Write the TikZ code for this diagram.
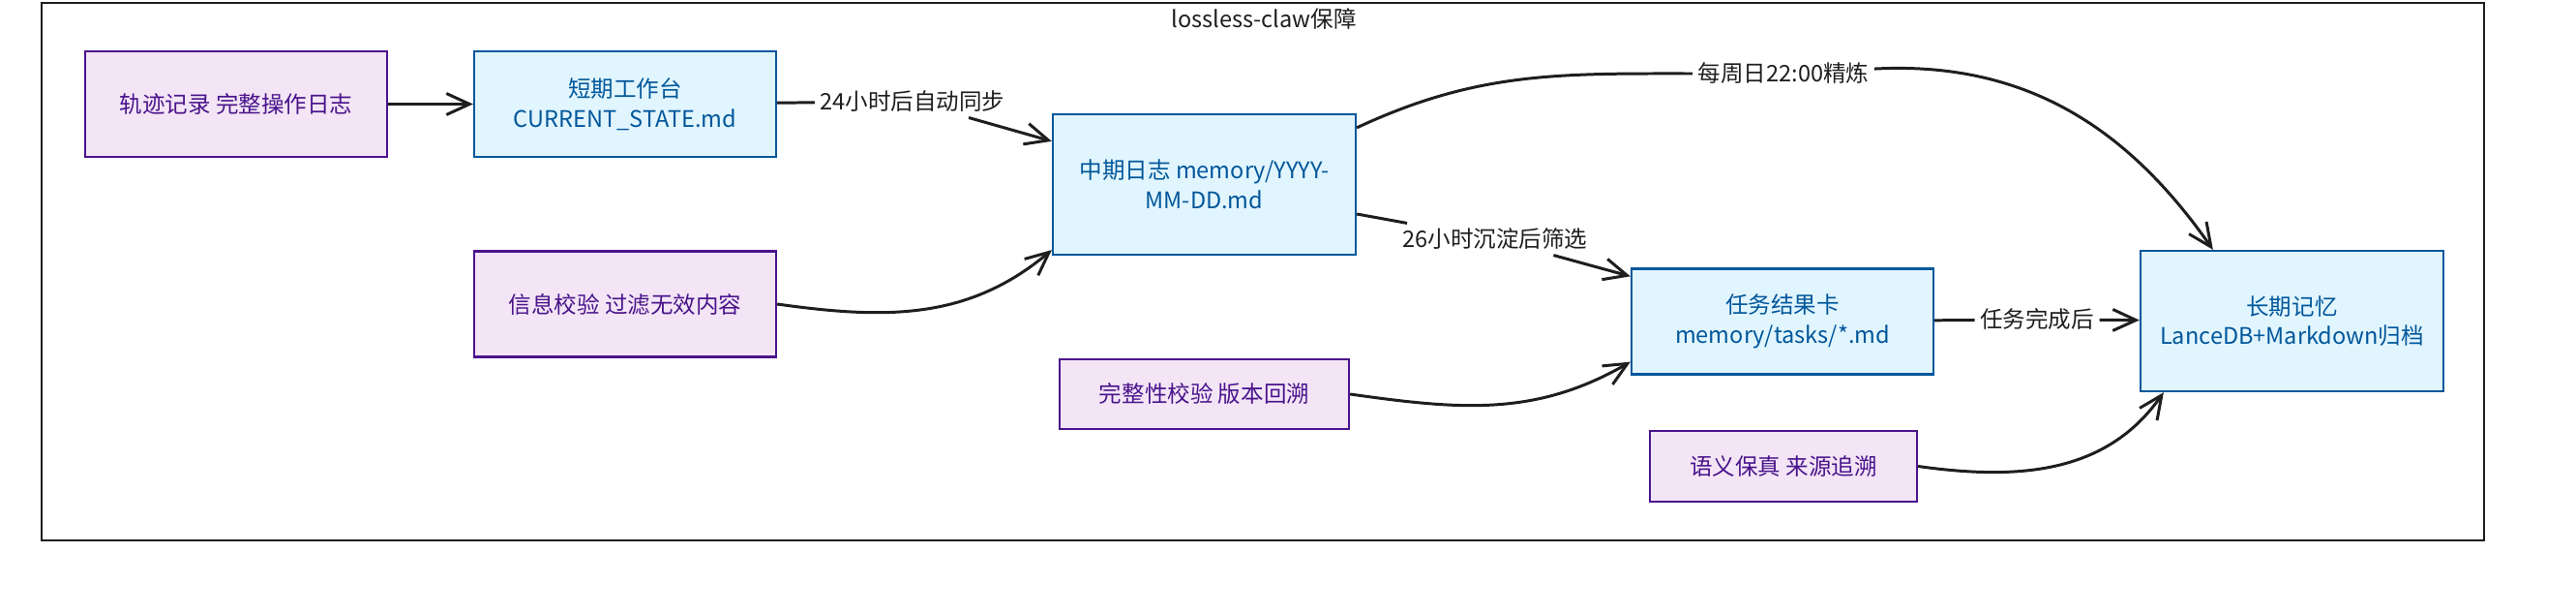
\documentclass[tikz,border=0pt]{standalone}
\usepackage{xcolor}
\usepackage{fontspec}
\newfontfamily\cjk{Noto Sans CJK SC}
\usepackage{tikz}
\usetikzlibrary{arrows.meta, positioning}
\definecolor{purpfill}{HTML}{F3E5F5}
\definecolor{purpline}{HTML}{4A148C}
\definecolor{bluefill}{HTML}{E1F5FE}
\definecolor{blueline}{HTML}{01579B}
\definecolor{ink}{HTML}{1E1E1E}

\begin{document}
\begin{tikzpicture}[
  font=\cjk\fontsize{13.4}{17.5}\selectfont,
  guard/.style={draw=purpline, line width=1.3pt, fill=purpfill, text=purpline,
                minimum width=6.24cm, minimum height=2.18cm, align=center, inner sep=2pt},
  store/.style={draw=blueline, line width=1.3pt, fill=bluefill, text=blueline,
                minimum width=6.24cm, minimum height=2.18cm, align=center, inner sep=2pt},
  tag/.style={text=ink, inner sep=3pt},
  flow/.style={-{Straight Barb[length=4.8mm,width=4.4mm]}, line width=1.7pt, ink}
]
\useasboundingbox (0,0) rectangle (53.24,-12.68);
\node[draw=ink, line width=1.2pt, minimum width=50.48cm, minimum height=11.1cm] (frame) at (26.1,-5.61) {};
\node[tag] (title) at (26.12,-0.40) {lossless-claw保障};
\node[guard] (trace) at (4.88,-2.15) {轨迹记录 完整操作日志};
\node[store] (short) at (12.92,-2.15) {短期工作台\\CURRENT\_STATE.md};
\node[guard] (check) at (12.92,-6.28) {信息校验 过滤无效内容};
\node[store, minimum width=6.26cm, minimum height=2.9cm] (mid) at (24.89,-3.81) {中期日志 memory/YYYY-\\MM-DD.md};
\node[store] (card) at (36.84,-6.64) {任务结果卡\\memory/tasks/*.md};
\node[guard, minimum width=5.98cm, minimum height=1.44cm] (integ) at (24.89,-8.14) {完整性校验 版本回溯};
\node[guard, minimum width=5.52cm, minimum height=1.46cm] (sem) at (36.86,-9.63) {语义保真 来源追溯};
\node[store, minimum width=6.26cm, minimum height=2.9cm] (long) at (47.37,-6.63) {长期记忆\\LanceDB+Markdown归档};
\node[tag] (sync) at (18.86,-2.10) {24小时后自动同步};
\node[tag] (settle) at (30.9,-4.94) {26小时沉淀后筛选};
\node[tag] (done) at (42.1,-6.6) {任务完成后};
\node[tag] (weekly) at (36.86,-1.52) {每周日22:00精炼};
\draw[flow] (trace) -- (short);
\draw[flow] (short) -- (sync) -- ([yshift=-0.58cm]mid.north west);
\draw[flow] (check.east) to[out=-8,in=220] ([yshift=0.12cm]mid.south west);
\draw[flow] ([yshift=-0.3cm]mid.north east) to[out=25,in=180] (weekly) to[out=3,in=125] ([xshift=1.52cm]long.north west);
\draw[flow] ([yshift=-0.61cm]mid.east) -- (settle) -- ([yshift=-0.18cm]card.north west);
\draw[flow] (integ.east) to[out=-8,in=210] ([yshift=0.28cm]card.south west);
\draw[flow] (card) -- (done) -- (long);
\draw[flow] (sem.east) to[out=-8,in=235] ([xshift=0.5cm]long.south west);
\end{tikzpicture}
\end{document}
